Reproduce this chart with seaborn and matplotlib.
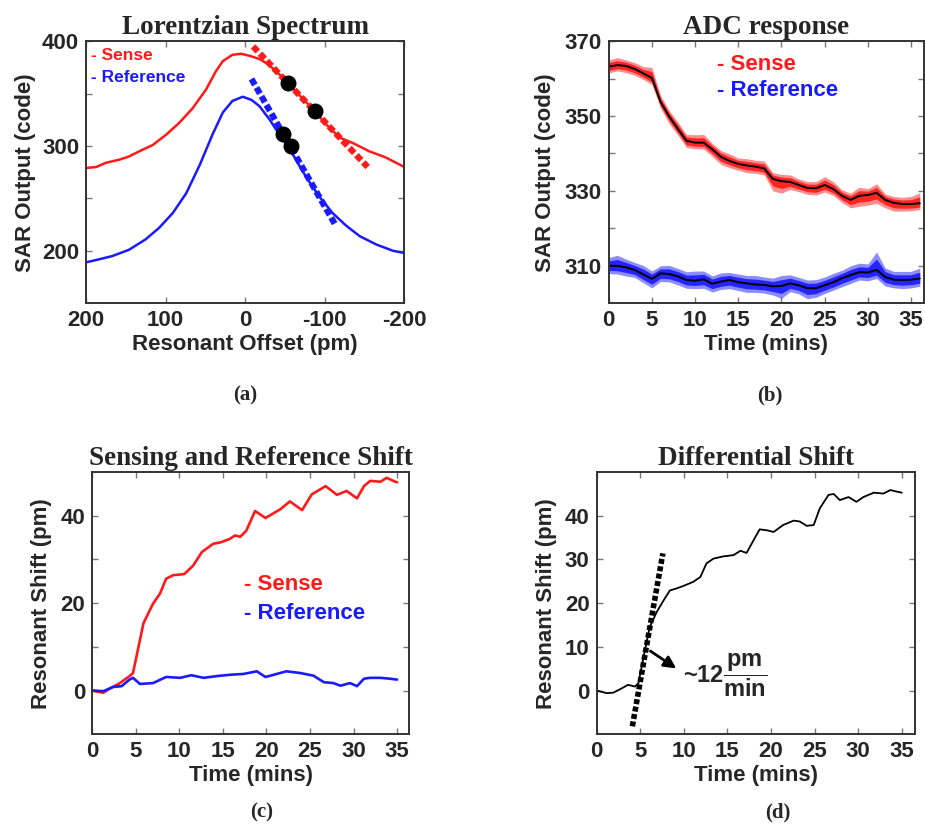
import numpy as np
import pandas as pd
import seaborn as sns
import matplotlib
matplotlib.use("Agg")
import matplotlib.pyplot as plt

sns.set_style("ticks")
plt.rcParams["font.family"] = ["Liberation Sans", "DejaVu Sans"]
plt.rcParams["font.weight"] = "bold"
plt.rcParams["axes.unicode_minus"] = False
plt.rcParams["mathtext.fontset"] = "custom"
plt.rcParams["mathtext.rm"] = "Liberation Sans:bold"
plt.rcParams["mathtext.bf"] = "Liberation Sans:bold"
plt.rcParams["mathtext.it"] = "Liberation Sans:bold"

RED = "#ff1a1a"
BLUE = "#1a1aff"

# ---------------- (a) Lorentzian spectrum ----------------
offset_sense = [200, 187, 175, 158, 146, 133, 116, 99, 83, 66, 49, 37, 28, 16, 5, -6,
                -18, -29, -45, -53, -70, -88, -100, -119, -135, -156, -177, -200]
sar_sense = [279, 280, 284, 287, 290, 295, 301, 311, 322, 336, 354, 371, 381, 387, 388,
             386, 383, 378, 367, 361, 347, 333, 322, 308, 303, 295, 289, 280]
offset_ref = [200, 183, 167, 146, 125, 108, 91, 74, 57, 41, 28, 16, 3, -8, -18, -31,
              -43, -60, -77, -94, -110, -127, -144, -165, -186, -200]
sar_ref = [189, 192, 195, 201, 211, 222, 236, 255, 282, 311, 332, 343, 347, 344, 338,
           325, 311, 292, 270, 251, 236, 224, 214, 206, 200, 198]
slope_sense_x = [-10, -154]
slope_sense_y = [395, 280]
slope_ref_x = [-8, -114]
slope_ref_y = [364, 224]
op_sense_x = [-54, -88]
op_sense_y = [360, 333]
op_ref_x = [-47, -58]
op_ref_y = [311, 300]

# ---------------- (b) ADC response ----------------
t_adc = list(range(0, 37))
adc_sense = [363.2, 363.6, 363.4, 362.6, 361.4, 360.2, 353.8, 349.9, 346.6, 343.4,
             342.9, 342.9, 341.1, 339.1, 338.0, 337.2, 336.8, 336.5, 336.0, 333.2,
             332.6, 332.4, 331.6, 330.8, 330.7, 331.6, 330.5, 328.7, 327.6, 328.7,
             328.9, 329.5, 327.6, 326.8, 326.5, 326.5, 326.7]
adc_ref = [310.0, 310.0, 309.6, 308.9, 307.7, 306.5, 308.0, 307.8, 307.2, 306.2,
           306.0, 306.4, 305.2, 305.8, 306.2, 305.6, 305.3, 305.0, 304.9, 304.5,
           304.6, 305.3, 304.8, 304.0, 304.0, 304.8, 305.6, 306.7, 307.5, 308.3,
           308.2, 308.9, 307.0, 306.3, 306.2, 306.3, 306.6]
# spread of the raw samples around each averaged trace (above / below)
sense_hi = [1.8, 2.0, 1.6, 1.7, 1.8, 2.8, 1.7, 1.6, 1.8, 1.7, 2.1, 2.2, 1.6, 1.7, 1.9,
            1.6, 1.8, 1.7, 2.0, 1.7, 1.8, 1.9, 1.6, 1.7, 1.8, 2.2, 2.0, 1.6, 1.8, 2.3,
            1.7, 2.4, 1.6, 1.7, 1.8, 2.0, 2.8]
sense_lo = [1.7, 1.5, 1.8, 1.7, 1.6, 1.8, 1.7, 1.9, 1.7, 1.8, 1.6, 1.7, 1.9, 2.0, 1.8,
            1.7, 1.9, 1.8, 1.7, 3.2, 3.2, 2.0, 1.8, 1.7, 1.8, 1.9, 1.7, 1.8, 2.1, 2.8,
            2.7, 2.8, 2.1, 2.2, 1.9, 1.8, 1.7]
ref_hi = [2.2, 2.8, 2.2, 2.0, 2.4, 2.1, 2.0, 2.3, 2.1, 2.2, 2.6, 2.2, 2.1, 2.3, 2.0,
          2.2, 2.1, 2.4, 2.1, 2.2, 2.8, 2.3, 2.1, 2.2, 2.3, 2.2, 2.4, 2.1, 2.5, 2.4,
          2.3, 4.8, 2.4, 2.2, 2.3, 2.2, 2.8]
ref_lo = [2.1, 2.2, 2.3, 2.0, 2.2, 2.4, 2.2, 2.1, 2.3, 2.2, 2.1, 2.4, 2.2, 2.1, 2.3,
          2.2, 2.4, 2.1, 2.2, 2.3, 3.3, 2.2, 2.3, 2.8, 2.4, 2.2, 2.1, 2.3, 2.2, 2.1,
          2.2, 2.3, 2.4, 2.2, 2.3, 2.2, 2.1]

# ---------------- (c) Sensing and reference shift ----------------
t_sense = [0, 0.7, 1.3, 2.0, 3.2, 4.3, 4.7, 5.1, 5.9, 7.0, 7.8, 8.5, 9.3, 10.3, 10.6,
           11.6, 12.6, 13.9, 14.7, 15.8, 16.4, 17.0, 17.7, 18.7, 19.9, 21.6, 22.7,
           24.1, 25.2, 26.8, 28.1, 29.2, 30.4, 31.2, 31.9, 33.1, 33.8, 34.8, 35.0]
shift_sense = [0, -0.3, -0.5, 0.4, 1.7, 3.3, 4.0, 7.8, 15.4, 19.9, 22.2, 25.6, 26.4,
               26.6, 26.7, 28.6, 31.7, 33.6, 33.9, 34.7, 35.5, 35.2, 36.6, 41.1, 39.5,
               41.5, 43.3, 41.3, 44.9, 46.8, 44.8, 45.7, 44.0, 46.8, 48.0, 47.8, 48.7,
               47.8, 47.7]
t_ref = [0, 1.3, 2.4, 3.4, 4.3, 4.7, 5.5, 7.0, 8.5, 10.1, 11.4, 12.8, 14.3, 15.8, 17.4,
         18.9, 19.9, 21.2, 22.3, 23.9, 25.4, 26.6, 27.7, 28.5, 29.6, 30.4, 31.2, 31.9,
         33.1, 34.2, 35.0]
shift_ref = [0, -0.15, 0.8, 1.0, 2.5, 2.9, 1.5, 1.7, 3.1, 2.9, 3.5, 2.9, 3.3, 3.6, 3.8,
             4.4, 3.1, 3.8, 4.4, 4.0, 3.4, 1.9, 1.7, 1.1, 1.7, 1.0, 2.7, 2.9, 2.9, 2.7,
             2.5]

# ---------------- (d) Differential shift ----------------
t_diff = [0, 1.15, 1.9, 2.7, 3.6, 4.4, 4.8, 5.4, 6.1, 6.9, 7.7, 8.4, 9.2, 9.9, 11.1,
          11.9, 12.6, 13.4, 14.5, 15.7, 16.5, 17.2, 18.0, 18.7, 19.5, 20.3, 21.4, 22.6,
          23.3, 24.1, 24.9, 25.6, 26.6, 27.2, 27.9, 28.9, 29.8, 30.6, 31.8, 32.9, 33.7,
          34.3, 35.0]
shift_diff = [0, -0.6, -0.5, 0.3, 1.3, 0.9, 1.7, 7.8, 14.6, 18.0, 20.7, 22.9, 23.4,
              23.9, 24.9, 26.0, 29.1, 30.2, 30.7, 31.0, 32.0, 31.5, 34.4, 36.9, 36.7,
              36.3, 37.9, 38.9, 38.7, 37.7, 37.9, 41.7, 44.8, 45.0, 43.6, 44.3, 43.2,
              44.3, 45.3, 45.1, 45.9, 45.6, 45.3]
rate_t = [4.1, 7.6]
rate_shift = [-8.2, 31.4]
rate_label = "12"

TICK_FS = 16
LABEL_FS = 16
TITLE_FONT = dict(family=["Liberation Serif", "DejaVu Serif"], fontweight="bold", fontsize=19.5)
PANEL_FONT = dict(family=["Liberation Serif", "DejaVu Serif"], fontweight="bold", fontsize=15)

fig = plt.figure(figsize=(9.25, 8.24), dpi=100)
ax_a = fig.add_axes([0.093, 0.632, 0.344, 0.318])
ax_b = fig.add_axes([0.658, 0.632, 0.341, 0.318])
ax_c = fig.add_axes([0.0995, 0.109, 0.343, 0.318])
ax_d = fig.add_axes([0.645, 0.109, 0.344, 0.318])


def style_axes(ax):
    for s in ax.spines.values():
        s.set_linewidth(1.4)
        s.set_color("#333333")
    ax.tick_params(direction="in", length=4, width=1, top=True, right=True,
                   labelsize=TICK_FS, pad=5, color="#777777")
    for lab in ax.get_xticklabels() + ax.get_yticklabels():
        lab.set_fontweight("bold")


# ---- (a)
sns.lineplot(x=offset_sense, y=sar_sense, ax=ax_a, color=RED, lw=1.8, sort=False)
sns.lineplot(x=offset_ref, y=sar_ref, ax=ax_a, color=BLUE, lw=1.8, sort=False)
ax_a.plot(slope_sense_x, slope_sense_y, color=RED, lw=4.5, ls=(0, (1.1, 0.5)),
          solid_capstyle="butt")
ax_a.plot(slope_ref_x, slope_ref_y, color=BLUE, lw=4.5, ls=(0, (1.1, 0.5)),
          solid_capstyle="butt")
ax_a.scatter(op_sense_x + op_ref_x, op_sense_y + op_ref_y, s=110, color="black", zorder=5)
ax_a.set_xlim(200, -200)
ax_a.set_ylim(150, 400)
ax_a.set_xticks([200, 100, 0, -100, -200])
ax_a.set_yticks([200, 250, 300, 350, 400])
ax_a.set_yticklabels(["200", "", "300", "", "400"])
ax_a.set_xlabel("Resonant Offset (pm)", fontsize=LABEL_FS, fontweight="bold", labelpad=2)
ax_a.set_ylabel("SAR Output (code)", fontsize=LABEL_FS, fontweight="bold", labelpad=4)
ax_a.set_title("Lorentzian Spectrum", pad=5, **TITLE_FONT)
ax_a.text(0.016, 0.947, "- Sense", color=RED, fontsize=12.5, fontweight="bold",
          transform=ax_a.transAxes, va="center")
ax_a.text(0.016, 0.863, "- Reference", color=BLUE, fontsize=12.5, fontweight="bold",
          transform=ax_a.transAxes, va="center")
style_axes(ax_a)

# ---- (b)
t_arr = np.array(t_adc, dtype=float)
s_arr = np.array(adc_sense)
r_arr = np.array(adc_ref)
ax_b.fill_between(t_arr, s_arr - np.array(sense_lo), s_arr + np.array(sense_hi),
                  color=RED, alpha=0.5, lw=0)
ax_b.fill_between(t_arr, s_arr - 0.6 * np.array(sense_lo), s_arr + 0.6 * np.array(sense_hi),
                  color=RED, alpha=0.9, lw=0)
ax_b.fill_between(t_arr, r_arr - np.array(ref_lo), r_arr + np.array(ref_hi),
                  color=BLUE, alpha=0.5, lw=0)
ax_b.fill_between(t_arr, r_arr - 0.6 * np.array(ref_lo), r_arr + 0.6 * np.array(ref_hi),
                  color=BLUE, alpha=0.9, lw=0)
sns.lineplot(x=t_adc, y=adc_sense, ax=ax_b, color="black", lw=1.4)
sns.lineplot(x=t_adc, y=adc_ref, ax=ax_b, color="black", lw=1.4)
ax_b.set_xlim(0, 36.5)
ax_b.set_ylim(300, 370)
ax_b.set_xticks([0, 5, 10, 15, 20, 25, 30, 35])
ax_b.set_yticks([310, 320, 330, 340, 350, 360, 370])
ax_b.set_yticklabels(["310", "", "330", "", "350", "", "370"])
ax_b.set_xlabel("Time (mins)", fontsize=LABEL_FS, fontweight="bold", labelpad=2)
ax_b.set_ylabel("SAR Output (code)", fontsize=LABEL_FS, fontweight="bold", labelpad=6)
ax_b.set_title("ADC response", pad=5, **TITLE_FONT)
ax_b.text(0.342, 0.912, "- Sense", color=RED, fontsize=16, fontweight="bold",
          transform=ax_b.transAxes, va="center")
ax_b.text(0.342, 0.81, "- Reference", color=BLUE, fontsize=16, fontweight="bold",
          transform=ax_b.transAxes, va="center")
style_axes(ax_b)

# ---- (c)
sns.lineplot(x=t_sense, y=shift_sense, ax=ax_c, color=RED, lw=1.9, sort=False)
sns.lineplot(x=t_ref, y=shift_ref, ax=ax_c, color=BLUE, lw=1.9, sort=False)
ax_c.set_xlim(0, 36.4)
ax_c.set_ylim(-10, 50)
ax_c.set_xticks([0, 5, 10, 15, 20, 25, 30, 35])
ax_c.set_yticks([0, 10, 20, 30, 40])
ax_c.set_yticklabels(["0", "", "20", "", "40"])
ax_c.set_xlabel("Time (mins)", fontsize=LABEL_FS, fontweight="bold", labelpad=2)
ax_c.set_ylabel("Resonant Shift (pm)", fontsize=LABEL_FS, fontweight="bold", labelpad=6)
ax_c.set_title("Sensing and Reference Shift", pad=5, **TITLE_FONT)
ax_c.text(0.48, 0.57, "- Sense", color=RED, fontsize=16, fontweight="bold",
          transform=ax_c.transAxes, va="center")
ax_c.text(0.48, 0.462, "- Reference", color=BLUE, fontsize=16, fontweight="bold",
          transform=ax_c.transAxes, va="center")
style_axes(ax_c)

# ---- (d)
sns.lineplot(x=t_diff, y=shift_diff, ax=ax_d, color="black", lw=1.3, sort=False)
ax_d.plot(rate_t, rate_shift, color="black", lw=4, ls=(0, (0.9, 0.45)),
          solid_capstyle="butt")
ax_d.annotate("", xy=(9.4, 4.7), xytext=(5.9, 9.4),
              arrowprops=dict(arrowstyle="-|>", color="black", lw=2,
                              mutation_scale=18))
ax_d.text(9.9, 3.4, "~" + rate_label + r"$\dfrac{\mathbf{pm}}{\mathbf{min}}$",
          fontsize=17, fontweight="bold", va="center", ha="left")
ax_d.set_xlim(0, 36.5)
ax_d.set_ylim(-10, 50)
ax_d.set_xticks([0, 5, 10, 15, 20, 25, 30, 35])
ax_d.set_yticks([0, 10, 20, 30, 40])
ax_d.set_xlabel("Time (mins)", fontsize=LABEL_FS, fontweight="bold", labelpad=2)
ax_d.set_ylabel("Resonant Shift (pm)", fontsize=LABEL_FS, fontweight="bold", labelpad=6)
ax_d.set_title("Differential Shift", pad=5, **TITLE_FONT)
style_axes(ax_d)

# panel labels
fig.text(245 / 925, 1 - 395 / 824, "(a)", ha="center", va="center", **PANEL_FONT)
fig.text(770 / 925, 1 - 395 / 824, "(b)", ha="center", va="center", **PANEL_FONT)
fig.text(262 / 925, 1 - 812 / 824, "(c)", ha="center", va="center", **PANEL_FONT)
fig.text(778 / 925, 1 - 812 / 824, "(d)", ha="center", va="center", **PANEL_FONT)

fig.savefig("out.png", dpi=100, facecolor="white")
